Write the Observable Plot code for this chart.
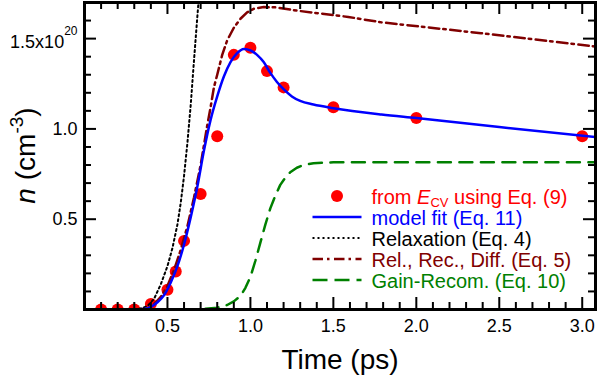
<!DOCTYPE html>
<html>
<head>
<meta charset="utf-8">
<script src="https://cdn.jsdelivr.net/npm/d3@7"></script>
<script src="https://cdn.jsdelivr.net/npm/@observablehq/plot@0.6"></script>
<style>
  html, body { margin: 0; padding: 0; background: #fff; }
  #chart { width: 598px; height: 375px; }
</style>
</head>
<body>
<div id="chart"></div>
<script>
// ---- Data ----
const measT = [0.1, 0.2, 0.3, 0.4, 0.5, 0.55, 0.6, 0.7, 0.8, 0.9, 1.0, 1.1, 1.2, 1.5, 2.0, 3.0];
const measN = [0.0, 0.0, 0.0, 0.03, 0.11, 0.21, 0.38, 0.64, 0.96, 1.41, 1.45, 1.32, 1.23, 1.12, 1.06, 0.96];

const fitT = [0.30, 0.36, 0.40, 0.44, 0.48, 0.52, 0.56, 0.60, 0.64, 0.68, 0.72, 0.76, 0.80, 0.84, 0.88, 0.92, 0.96, 1.00, 1.04, 1.08, 1.12, 1.16, 1.20, 1.25, 1.30, 1.38, 1.50, 1.79, 2.00, 2.50, 3.08];
const fitN = [0.0, 0.003, 0.015, 0.04, 0.08, 0.15, 0.24, 0.36, 0.51, 0.68, 0.88, 1.05, 1.18, 1.29, 1.37, 1.42, 1.443, 1.435, 1.41, 1.37, 1.31, 1.26, 1.22, 1.18, 1.155, 1.135, 1.115, 1.08, 1.06, 1.01, 0.955];

const relaxT = [0.30, 0.34, 0.38, 0.42, 0.46, 0.50, 0.53, 0.56, 0.58, 0.60, 0.62, 0.64, 0.66, 0.68, 0.70];
const relaxN = [0.0, 0.005, 0.02, 0.06, 0.14, 0.24, 0.34, 0.47, 0.59, 0.74, 0.92, 1.13, 1.38, 1.62, 1.85];

const rrdT = [0.30, 0.38, 0.42, 0.46, 0.50, 0.54, 0.58, 0.62, 0.66, 0.70, 0.74, 0.76, 0.78, 0.80, 0.83, 0.86, 0.90, 0.94, 0.98, 1.02, 1.08, 1.15, 1.28, 1.59, 1.79, 2.39, 3.08];
const rrdN = [0.0, 0.005, 0.03, 0.07, 0.13, 0.22, 0.33, 0.46, 0.62, 0.80, 1.02, 1.12, 1.23, 1.30, 1.41, 1.49, 1.56, 1.61, 1.645, 1.665, 1.675, 1.673, 1.655, 1.62, 1.59, 1.53, 1.456];

const grT = [0.60, 0.70, 0.80, 0.86, 0.90, 0.94, 0.97, 1.00, 1.03, 1.06, 1.09, 1.12, 1.15, 1.18, 1.21, 1.24, 1.28, 1.32, 1.38, 1.50, 3.08];
const grN = [0.0, 0.002, 0.01, 0.025, 0.045, 0.075, 0.12, 0.18, 0.27, 0.37, 0.47, 0.56, 0.63, 0.69, 0.73, 0.76, 0.785, 0.80, 0.81, 0.815, 0.815];

const xMajor = [0.5, 1.0, 1.5, 2.0, 2.5, 3.0];
const xMinor = [0.1, 0.2, 0.3, 0.4, 0.6, 0.7, 0.8, 0.9, 1.1, 1.2, 1.3, 1.4, 1.6, 1.7, 1.8, 1.9, 2.1, 2.2, 2.3, 2.4, 2.6, 2.7, 2.8, 2.9];
const yMajor = [0.5, 1.0, 1.5];
const yMinor = [0.1, 0.2, 0.3, 0.4, 0.6, 0.7, 0.8, 0.9, 1.1, 1.2, 1.3, 1.4, 1.6];

const legendLabels = ["from ", "model fit (Eq. 11)", "Relaxation (Eq. 4)", "Rel., Rec., Diff. (Eq. 5)", "Gain-Recom. (Eq. 10)"];

const toRows = (T, N) => T.map((t, i) => ({t, n: N[i]}));
const meas = toRows(measT, measN);
const fit = toRows(fitT, fitN);
const relax = toRows(relaxT, relaxN);
const rrd = toRows(rrdT, rrdN);
const gr = toRows(grT, grN);

// ---- Layout ----
const W = 598, H = 375;
const mL = 84, mR = 3, mT = 2, mB = 66;
const innerW = W - mL - mR, innerH = H - mT - mB;
const majLen = 12, minLen = 7;
const FONT = "'Liberation Sans', Arial, Helvetica, sans-serif";

const RED = "#ff0000", BLUE = "#0000ff", MAROON = "#800000", GREEN = "#008000";

const plot = Plot.plot({
  width: W, height: H,
  marginLeft: mL, marginRight: mR, marginTop: mT, marginBottom: mB,
  style: {fontFamily: FONT, background: "#fff", color: "#000", overflow: "visible"},
  x: {domain: [0, 3.08]},
  y: {domain: [0, 1.7]},
  marks: [
    Plot.dot(meas, {x: "t", y: "n", r: 6, fill: RED, stroke: "none", clip: true}),
    Plot.line(gr, {x: "t", y: "n", stroke: GREEN, strokeWidth: 2.5, strokeDasharray: "13,8.5", clip: true}),
    Plot.line(rrd, {x: "t", y: "n", stroke: MAROON, strokeWidth: 2.5, strokeDasharray: "10.5,4,2.5,4.5", clip: true}),
    Plot.line(relax, {x: "t", y: "n", stroke: "#000", strokeWidth: 2, strokeDasharray: "2,3", clip: true}),
    Plot.line(fit, {x: "t", y: "n", stroke: BLUE, strokeWidth: 2.5, curve: "monotone-x", clip: true}),
    // inward ticks: bottom / top
    Plot.ruleX(xMajor, {x: d => d, insetTop: innerH - majLen, strokeWidth: 2}),
    Plot.ruleX(xMinor, {x: d => d, insetTop: innerH - minLen, strokeWidth: 2}),
    Plot.ruleX(xMajor, {x: d => d, insetBottom: innerH - majLen, strokeWidth: 2}),
    Plot.ruleX(xMinor, {x: d => d, insetBottom: innerH - minLen, strokeWidth: 2}),
    // inward ticks: left / right
    Plot.ruleY(yMajor, {y: d => d, insetRight: innerW - majLen, strokeWidth: 2}),
    Plot.ruleY(yMinor, {y: d => d, insetRight: innerW - minLen, strokeWidth: 2}),
    Plot.ruleY(yMajor, {y: d => d, insetLeft: innerW - majLen, strokeWidth: 2}),
    Plot.ruleY(yMinor, {y: d => d, insetLeft: innerW - minLen, strokeWidth: 2}),
    Plot.frame({stroke: "#000", strokeWidth: 3}),
    Plot.axisX({ticks: xMajor, tickSize: 0, tickPadding: 10, fontSize: 18, label: null,
                tickFormat: d => d.toFixed(1)}),
    Plot.axisY({ticks: yMajor, tickSize: 0, tickPadding: 7, fontSize: 18, label: null,
                tickFormat: d => d === 1.5 ? "1.5x10" : d.toFixed(1)}),
    Plot.text(["Time (ps)"], {text: d => d, frameAnchor: "bottom", lineAnchor: "bottom", dy: 59, fontSize: 28})
  ]
});

document.getElementById("chart").appendChild(plot);
const svg = d3.select(plot);

// superscript on the 1.5x10^20 label
svg.selectAll("text").filter(function() { return this.textContent === "1.5x10"; }).each(function() {
  const t = d3.select(this);
  t.text(null);
  t.append("tspan").attr("dy", 3.5).text("1.5x10");
  t.append("tspan").attr("dy", -13).attr("font-size", 12).text("20");
});

// y-axis title: n (cm^-3)
const yt = svg.append("text")
  .attr("transform", `translate(35,${mT + innerH / 2}) rotate(-90)`)
  .attr("text-anchor", "middle")
  .attr("font-size", 28)
  .attr("font-family", FONT)
  .attr("fill", "#000");
yt.append("tspan").attr("font-style", "italic").text("n");
yt.append("tspan").text(" (cm");
yt.append("tspan").attr("dy", -12).attr("font-size", 19).text("-3");
yt.append("tspan").attr("dy", 12).text(")");

// legend
const lg = svg.append("g").attr("font-family", FONT).attr("font-size", 20).attr("text-anchor", "start");
const lx0 = 312.5, lx1 = 361.5, tx = 371.5;
const rows = [
  {base: 203.5, color: RED, kind: "dot"},
  {base: 224.5, color: BLUE, kind: "line", dash: null, w: 2.5},
  {base: 245.5, color: "#000", kind: "line", dash: "2,3", w: 2},
  {base: 266.5, color: MAROON, kind: "line", dash: "10.5,4,2.5,4.5", w: 2.5},
  {base: 287.5, color: GREEN, kind: "line", dash: "15,7", w: 2.5}
];
rows.forEach((r, i) => {
  const cy = r.base - 7.5;
  if (r.kind === "dot") {
    lg.append("circle").attr("cx", (lx0 + lx1) / 2).attr("cy", cy).attr("r", 6).attr("fill", r.color);
  } else {
    lg.append("line").attr("x1", lx0).attr("x2", lx1).attr("y1", cy).attr("y2", cy)
      .attr("stroke", r.color).attr("stroke-width", r.w)
      .attr("stroke-dasharray", r.dash);
  }
  const t = lg.append("text").attr("x", tx).attr("y", r.base).attr("fill", r.color).attr("text-anchor", "start");
  if (i === 0) {
    t.append("tspan").text(legendLabels[0]);
    t.append("tspan").attr("font-style", "italic").text("E");
    t.append("tspan").attr("dy", 3).attr("font-size", 13).text("CV");
    t.append("tspan").attr("dy", -3).text(" using Eq. (9)");
  } else {
    t.text(legendLabels[i]);
  }
});
</script>
</body>
</html>
